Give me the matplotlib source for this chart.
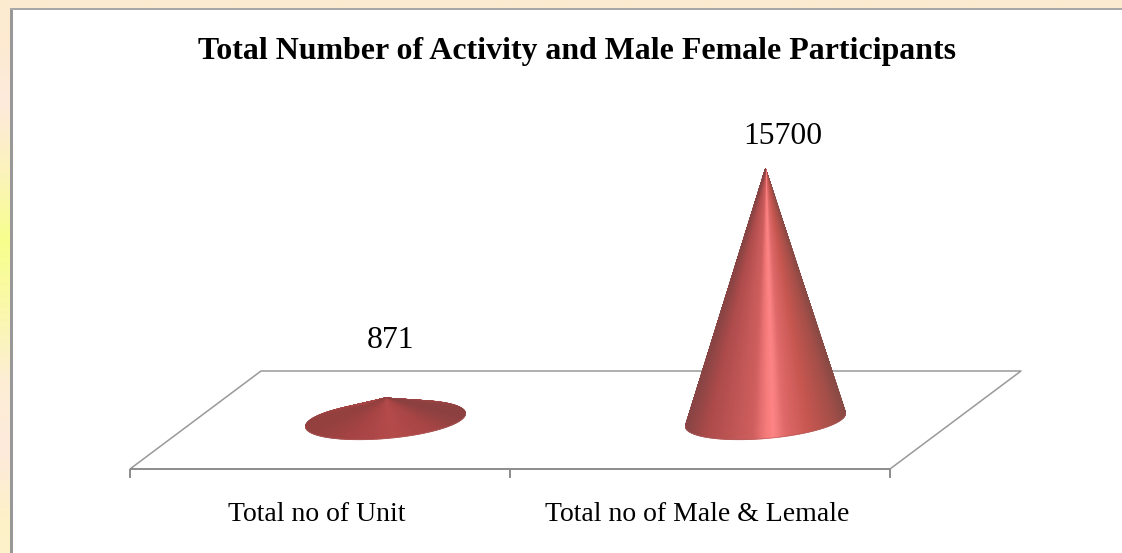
import matplotlib
matplotlib.use("Agg")
import matplotlib.pyplot as plt
import numpy as np
from matplotlib.colors import LinearSegmentedColormap

# chart data
categories = ["Total no of Unit", "Total no of Male & Lemale"]
values = [871, 15700]
title = "Total Number of Activity and Male Female Participants"

# page background colours, top to bottom
page_colors = ["#fdebd0", "#feeadc", "#fbf3bb", "#f8ff8c", "#faf8ac", "#fdeed5", "#feeadc", "#fdf1c8"]

# figure scale
W, H = 1122, 553
PX_PER_CAT = 380.0
PX_PER_VALUE = 0.01544
FRONT_X = 320.0  # pixel of category 0 on the front edge
FRONT_Y = 460.5  # pixel of value 0 on the front edge
FLOOR = -550.0
DEPTH_X = 131.0 / PX_PER_CAT
DEPTH_Y = 98.0 / PX_PER_VALUE
RADIUS_X = 80.0 / PX_PER_CAT
TILT_Y = 6.5 / PX_PER_VALUE
RADIUS_Y = 18.5 / PX_PER_VALUE

tall_cmap = LinearSegmentedColormap.from_list(
    "tall",
    [(0.0, "#8a4444"), (0.12, "#ac4a4a"), (0.42, "#d05f5f"), (0.5, "#f57a7a"),
     (0.55, "#ff8686"), (0.62, "#e06a6a"), (0.78, "#c65650"), (0.93, "#a54f49"), (1.0, "#8a4a45")],
)
flat_cmap = LinearSegmentedColormap.from_list(
    "flat",
    [(0.0, "#93403f"), (0.25, "#a54343"), (0.55, "#b54b4b"), (0.8, "#a84545"), (1.0, "#8c4040")],
)


def project(cat, value, depth):
    return cat + depth * DEPTH_X, value + depth * DEPTH_Y


def draw_cone(ax, cat, value, cmap):
    base_x, base_y = project(cat, FLOOR, 0.5)
    apex_x, apex_y = project(cat, value, 0.5)
    # back half of the rim first, then the front half over it
    for start, stop in [(np.pi, 2 * np.pi), (0, np.pi)]:
        angles = np.linspace(start, stop, 120)
        rim_x = base_x + RADIUS_X * np.cos(angles)
        rim_y = base_y + TILT_Y * np.cos(angles) - RADIUS_Y * np.sin(angles)
        rows = np.array([[0.0], [1.0]])
        X = rim_x * (1 - rows) + apex_x * rows
        Y = rim_y * (1 - rows) + apex_y * rows
        C = np.tile((np.cos(angles) + 1) / 2, (2, 1))
        ax.pcolormesh(X, Y, C, cmap=cmap, vmin=0, vmax=1, shading="gouraud", zorder=3)
    # soften the front rim edge
    ax.plot(rim_x, rim_y, color="#b06060", lw=0.5, zorder=4, alpha=0.7)


plt.rcParams["font.family"] = ["Liberation Serif", "DejaVu Serif"]
fig = plt.figure(figsize=(W / 100, H / 100), dpi=100)

# page gradient and white chart box
bg = fig.add_axes([0, 0, 1, 1], zorder=0)
bg.imshow(
    np.array([[matplotlib.colors.to_rgb(c)] for c in page_colors]),
    aspect="auto", extent=(0, W, H, 0), interpolation="bilinear",
)
bg.add_patch(plt.Rectangle((10, 8), W - 10, H - 8, facecolor="white", edgecolor="none"))
bg.add_patch(plt.Rectangle((10, 8), 3, H - 8, facecolor="#989898", edgecolor="none"))
bg.add_patch(plt.Rectangle((10, 8), W - 10, 1.5, facecolor="#a8a8a8", edgecolor="none"))
bg.set_xlim(0, W)
bg.set_ylim(H, 0)
bg.axis("off")

# chart axes span the figure, scaled so that values land on the picture's scale
ax = fig.add_axes([0, 0, 1, 1], zorder=1)
ax.patch.set_alpha(0)
ax.axis("off")

# floor of the 3D chart
corners = [project(-0.5, FLOOR, 0), project(-0.5, FLOOR, 1), project(1.5, FLOOR, 1), project(1.5, FLOOR, 0)]
ax.plot(*zip(*corners), color="#999999", lw=1.1, zorder=1, solid_capstyle="butt")
ax.plot(*zip(corners[0], corners[3]), color="#8c8c8c", lw=1.4, zorder=2, solid_capstyle="butt")
for tick in [-0.5, 0.5, 1.5]:
    ax.plot([tick, tick], [FLOOR, FLOOR - 9 / PX_PER_VALUE], color="#8c8c8c", lw=1.4, zorder=2, solid_capstyle="butt")

label_offsets = [(5, 58), (17, 33)]
for i, (name, value) in enumerate(zip(categories, values)):
    draw_cone(ax, i, value, flat_cmap if value < 5000 else tall_cmap)
    ax.annotate(
        str(value), project(i, value, 0.5), xytext=label_offsets[i], textcoords="offset pixels",
        ha="center", va="center", fontsize=22.8, color="black",
    )
    ax.annotate(
        name, project(i, FLOOR, 0), xytext=(-3, -46), textcoords="offset pixels",
        ha="center", va="center", fontsize=20, color="black",
    )

# set limits last, the mesh calls would otherwise rescale
ax.set_xlim(-FRONT_X / PX_PER_CAT, (W - FRONT_X) / PX_PER_CAT)
ax.set_ylim((FRONT_Y - H) / PX_PER_VALUE, FRONT_Y / PX_PER_VALUE)

fig.text(576.5 / W, 1 - 52 / H, title, ha="center", va="center", fontsize=22.95, fontweight="bold", color="black")

fig.savefig("out.png", dpi=100)
